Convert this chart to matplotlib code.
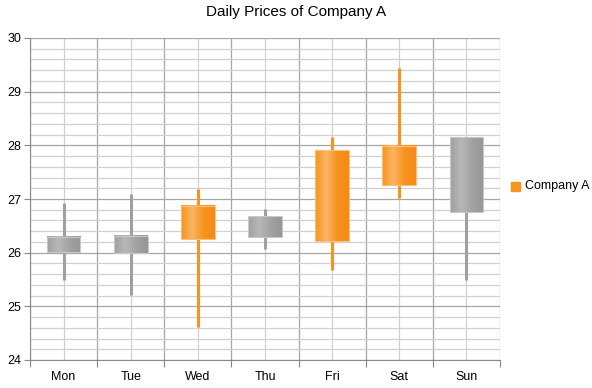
import numpy as np
import matplotlib
matplotlib.use("Agg")
import matplotlib.pyplot as plt
from matplotlib.colors import LinearSegmentedColormap
from matplotlib.patches import Rectangle
from matplotlib.ticker import MultipleLocator, FixedLocator

plt.rcParams["font.family"] = ["Liberation Sans", "DejaVu Sans"]

days = ["Mon", "Tue", "Wed", "Thu", "Fri", "Sat", "Sun"]
open_ = [26.29, 26.31, 26.25, 26.68, 26.22, 27.26, 28.15]
close = [26.01, 25.99, 26.87, 26.30, 27.91, 27.99, 26.76]
high = [26.93, 27.09, 27.18, 26.81, 28.15, 29.44, 28.15]
low = [25.50, 25.21, 24.61, 26.07, 25.68, 27.01, 25.50]

fig = plt.figure(figsize=(5.92, 3.88), dpi=100)
ax = fig.add_axes([30/592, 28/388, 470/592, 322/388])

up_cmap = LinearSegmentedColormap.from_list("up", ["#f7931e", "#fab563", "#f7931e", "#f48a1a"])
dn_cmap = LinearSegmentedColormap.from_list("dn", ["#a0a0a0", "#b8b8b8", "#a2a2a2", "#969696"])
grad = np.linspace(0, 1, 64).reshape(1, -1)

w = 0.5
x = np.arange(len(days))
for i in x:
    o, c, h, l = open_[i], close[i], high[i], low[i]
    up = c >= o
    wick = "#f7931e" if up else "#a0a0a0"
    ax.vlines(i, l, h, color=wick, lw=2.2, zorder=3)
    lo, hi = min(o, c), max(o, c)
    ax.imshow(grad, cmap=up_cmap if up else dn_cmap, aspect="auto",
              extent=[i - w/2, i + w/2, lo, hi], zorder=4, interpolation="bilinear")
    ax.add_patch(Rectangle((i - w/2, lo), w, hi - lo, fill=False,
                           ec="#fbc07a" if up else "#c8c8c8", lw=0.8, zorder=5))

ax.set_xlim(-0.5, len(days) - 0.5)
ax.set_ylim(24, 30)
ax.set_aspect("auto")

ax.yaxis.set_major_locator(MultipleLocator(1))
ax.yaxis.set_minor_locator(MultipleLocator(0.2))
ax.xaxis.set_major_locator(FixedLocator(np.arange(-0.5, len(days), 1.0)))
ax.xaxis.set_minor_locator(FixedLocator(x))
ax.set_xticklabels([])
ax.set_xticks(x, minor=True)
ax.set_xticklabels(days, minor=True)

ax.grid(which="major", color="#a6a6a6", lw=0.9, zorder=0)
ax.grid(which="minor", color="#d0d0d0", lw=0.9, zorder=0)
ax.set_axisbelow(True)

ax.tick_params(axis="x", which="major", length=5, color="#888888", direction="out")
ax.tick_params(axis="x", which="minor", length=0, labelsize=9, pad=8)
ax.tick_params(axis="y", which="major", length=4, color="#888888", labelsize=9, pad=2)
ax.tick_params(axis="y", which="minor", length=0)

for s in ["top", "right"]:
    ax.spines[s].set_visible(False)
ax.spines["left"].set_color("#888888")
ax.spines["bottom"].set_color("#888888")

fig.text(0.5, 1 - 12/388, "Daily Prices of Company A", ha="center", va="center", fontsize=11)

fig.patches.append(Rectangle((511/592, 1 - 191/388), 9/592, 9/388, transform=fig.transFigure,
                             color="#f7931e", figure=fig))
fig.text(525/592, 1 - 186/388, "Company A", ha="left", va="center", fontsize=9)

fig.savefig("out.png", dpi=100)
